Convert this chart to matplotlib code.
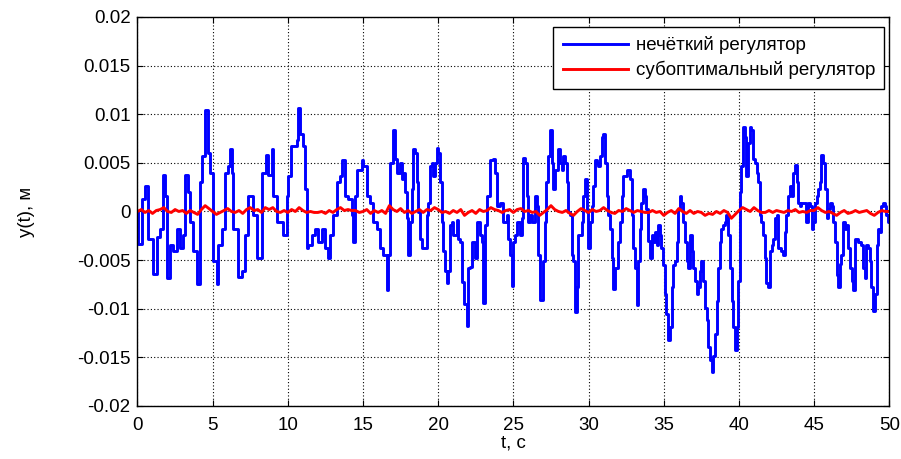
import numpy as np
import matplotlib
matplotlib.use("Agg")
import matplotlib.pyplot as plt

plt.rcParams['font.family'] = ['Liberation Sans', 'DejaVu Sans']
plt.rcParams['axes.unicode_minus'] = False

# ---------------- data ----------------
# fuzzy controller, t in s, y in 1e-3 m
blue_t = [0.0, 0.06, 0.28, 0.5, 0.72, 1.05, 1.27, 1.5, 1.72, 1.83, 1.94, 2.16, 2.38, 2.6, 2.83,
          3.05, 3.16, 3.38, 3.49, 3.71, 3.94, 4.16, 4.27, 4.49, 4.71, 4.82, 5.04, 5.27, 5.38, 5.6,
          5.82, 6.0, 6.15, 6.26, 6.38, 6.71, 6.93, 7.15, 7.37, 7.7, 7.92, 8.26, 8.52, 8.7, 8.97,
          9.03, 9.25, 9.47, 9.7, 9.92, 10.03, 10.2, 10.43, 10.58, 10.69, 10.8, 11.03, 11.14, 11.25,
          11.36, 11.58, 11.8, 12.02, 12.25, 12.47, 12.69, 12.8, 13.02, 13.24, 13.46, 13.62, 13.8,
          14.02, 14.24, 14.35, 14.46, 14.57, 14.9, 15.01, 15.24, 15.46, 15.68, 15.9, 16.12, 16.35,
          16.57, 16.68, 16.79, 16.97, 17.12, 17.23, 17.45, 17.57, 17.68, 17.79, 17.9, 18.01, 18.12,
          18.23, 18.34, 18.45, 18.56, 18.67, 18.78, 18.89, 19.12, 19.23, 19.34, 19.45, 19.56, 19.67,
          19.78, 19.89, 20.0, 20.11, 20.22, 20.33, 20.45, 20.56, 20.67, 20.78, 20.89, 21.0, 21.22,
          21.33, 21.44, 21.55, 21.7, 21.89, 22.0, 22.1, 22.22, 22.44, 22.55, 22.77, 22.88, 22.97,
          23.1, 23.22, 23.44, 23.66, 23.77, 23.88, 24.1, 24.32, 24.55, 24.66, 24.77, 24.88, 24.99,
          25.1, 25.21, 25.43, 25.54, 25.65, 25.76, 25.88, 25.99, 26.1, 26.21, 26.43, 26.54, 26.65,
          26.76, 26.98, 27.09, 27.2, 27.32, 27.43, 27.54, 27.65, 27.76, 27.99, 28.1, 28.21, 28.32,
          28.43, 28.54, 28.65, 28.76, 28.87, 28.98, 29.13, 29.21, 29.32, 29.54, 29.66, 29.77, 29.88,
          29.98, 30.1, 30.2, 30.31, 30.42, 30.53, 30.64, 30.75, 30.86, 30.97, 31.08, 31.2, 31.31,
          31.42, 31.53, 31.64, 31.75, 31.97, 32.08, 32.2, 32.3, 32.53, 32.75, 32.86, 32.97, 33.08,
          33.19, 33.3, 33.41, 33.52, 33.63, 33.74, 33.85, 33.96, 34.08, 34.19, 34.3, 34.41, 34.52,
          34.63, 34.74, 34.85, 34.96, 35.07, 35.18, 35.29, 35.41, 35.52, 35.63, 35.74, 35.85, 35.96,
          36.07, 36.18, 36.29, 36.41, 36.52, 36.63, 36.74, 36.85, 36.96, 37.07, 37.18, 37.29, 37.4,
          37.51, 37.62, 37.73, 37.85, 37.96, 38.07, 38.18, 38.29, 38.4, 38.51, 38.62, 38.73, 38.84,
          38.95, 39.06, 39.17, 39.28, 39.4, 39.51, 39.62, 39.73, 39.84, 39.95, 40.06, 40.17, 40.28,
          40.39, 40.5, 40.61, 40.72, 40.83, 40.95, 41.06, 41.17, 41.28, 41.39, 41.5, 41.61, 41.72,
          41.83, 41.94, 42.05, 42.17, 42.28, 42.39, 42.5, 42.61, 42.72, 42.83, 42.94, 43.05, 43.16,
          43.28, 43.39, 43.5, 43.61, 43.72, 43.83, 43.94, 44.05, 44.16, 44.27, 44.38, 44.49, 44.61,
          44.72, 44.83, 44.94, 45.05, 45.16, 45.27, 45.38, 45.49, 45.6, 45.71, 45.83, 45.94, 46.05,
          46.16, 46.27, 46.38, 46.49, 46.6, 46.71, 46.82, 46.93, 47.04, 47.15, 47.26, 47.38, 47.49,
          47.6, 47.71, 47.82, 47.93, 48.15, 48.26, 48.37, 48.48, 48.59, 48.7, 48.81, 48.93, 49.04,
          49.15, 49.26, 49.37, 49.48, 49.59, 49.7, 49.81, 49.92, 50.0]
blue_y = [0.0, -3.3, 1.3, 2.6, -2.8, -6.4, -2.6, -1.8, 3.8, 1.6, -6.8, -3.4, -4.1, -1.8, -3.8,
          -2.4, 3.8, 2.0, -1.1, -4.1, -7.5, 3.0, 5.7, 10.4, 6.0, 4.0, -5.1, -7.5, -3.4, -1.8,
          4.0, 4.7, 6.4, 4.0, -1.8, -6.7, -6.1, -2.4, 1.6, -0.4, -4.8, 4.0, 5.8, 3.8, 6.4,
          1.6, -1.1, -1.1, -2.4, 1.6, 3.6, 6.7, 6.7, 7.4, 10.6, 8.0, 6.7, 2.3, -3.8,
          -3.4, -2.4, -1.8, -3.1, -1.8, -3.8, -4.8, -2.4, -0.4, 3.0, 3.6, 5.3, 1.6,
          1.3, -0.4, -3.1, 1.6, 4.3, 5.3, 4.7, 1.6, 0.9, -1.1, -1.8, -3.8, -4.5,
          -8.1, -4.5, 5.0, 8.4, 5.4, 4.0, 5.0, 3.3, 4.0, 2.0, -0.7, -4.5, -1.1,
          2.3, 6.4, 6.0, 3.0, -0.1, -2.8, -3.8, -3.8, -0.4, 0.9, 4.7, 5.0, 3.6,
          5.0, 6.5, 6.0, 3.0, -1.1, -4.1, -6.1, -7.4, -6.1, -1.4, -1.1, -2.4, -0.9,
          -2.8, -3.1, -7.2, -9.5, -11.8, -5.8, -5.7, -3.1, -4.8, -1.1, -2.4, -3.1, -9.4,
          -1.4, 1.6, 5.3, 5.4, 4.0, 0.6, 0.9, -1.1, -0.4, -2.8, -4.5, -7.7, -3.1,
          -2.4, -1.1, -2.4, -0.7, 5.5, 5.0, 1.6, -1.1, -0.4, -1.1, 1.6, 0.6, -4.5,
          -9.1, -5.1, -1.1, 3.0, 5.7, 8.4, 5.0, 2.3, 4.3, 6.4, 5.0, 4.3, 5.7,
          5.0, 3.0, -0.1, -0.4, -4.5, -5.1, -10.3, -7.8, -2.4, -1.1, 1.6, 3.3, -0.1,
          -3.8, -1.1, 0.6, 2.6, 5.3, 5.0, 4.7, 5.7, 7.7, 8.0, 5.0, 1.6, -0.4,
          -1.8, -4.8, -8.0, -5.8, -3.1, -1.1, 1.6, 3.6, 4.3, 3.3, -0.4, -3.8, -5.8,
          -9.6, -5.1, -1.8, 0.9, 2.3, 1.6, 0.3, -3.0, -4.8, -2.4, -3.1, -2.1, -3.4,
          -1.4, -2.4, -3.8, -5.5, -8.5, -10.5, -13.2, -11.9, -7.8, -5.5, -5.1, -3.1, 0.3,
          1.6, 0.9, -1.1, -3.1, -5.1, -5.8, -2.4, -4.1, -5.8, -7.1, -8.5, -7.8, -6.1,
          -5.1, -7.1, -9.9, -11.2, -13.9, -15.3, -16.5, -14.9, -12.6, -9.2, -5.8, -3.1, -1.8,
          -1.4, -1.1, -0.4, -2.4, -5.8, -9.2, -11.9, -14.2, -11.9, -7.1, 2.0, 4.7, 8.7,
          7.7, 3.7, 7.0, 8.7, 8.4, 5.4, 5.0, 4.0, 3.0, -0.4, -1.1, -2.4, -4.8,
          -7.4, -7.8, -4.1, -3.4, -2.8, -0.7, -0.4, -3.8, -3.8, -4.1, -4.5, -2.1, -0.4,
          1.6, 2.6, 1.6, 4.0, 4.8, 3.0, 0.9, 0.6, 0.9, 0.9, 0.9, -1.1, 0.9,
          0.6, -1.8, -1.1, 0.9, 1.6, 2.3, 3.0, 5.8, 5.0, 2.3, -0.7, 0.3, 0.9,
          0.6, -1.1, -3.1, -6.5, -7.8, -5.4, -4.5, -1.1, -1.8, -1.4, -3.8, -5.8, -7.1,
          -8.1, -2.8, -2.8, -3.1, -3.4, -5.8, -6.8, -3.4, -3.8, -5.1, -7.8, -10.2, -8.5,
          -3.4, -1.8, -2.1, 0.6, 0.9, 0.6, -0.4, -1.1, -0.4]

# suboptimal controller, one value every 0.25 s, y in 1e-4 m
red_y = [0, 2, -1, 1, -2, 1, 2, 4, 0, -1, 2, 0, 1, -2, 1, -1,
         -3, 2, 6, 3, 0, -3, -1, 1, 3, 0, -1, 1, -2, 2, 4, 1,
         2, -1, 4, 2, 4, 0, -1, 1, -1, 2, 0, 4, 1, -1, 0, -1,
         -1, 0, -2, 1, -1, 2, 4, 1, 2, 1, 1, -1, 0, 2, -2, 1,
         -1, 1, -2, 6, 2, 0, 3, -1, 1, -2, 0, 2, -1, 2, 1, 4,
         2, -1, 0, -2, 1, -1, 2, -4, -1, 1, -2, 2, 0, 1, 4, 2,
         1, -1, 1, 2, -1, 2, 3, 0, 1, -1, 0, -4, -1, 2, 6, 2,
         0, -1, 1, -2, -4, 0, 3, 1, -1, 2, 0, 1, 4, 1, -1, -2,
         1, 0, 3, 1, -1, 1, 0, -1, -1, 1, -1, 0, -4, -1, 1, -2,
         3, 0, -2, 1, -2, 0, -1, -4, -2, -3, 0, -2, 1, -1, -7, -3,
         1, 4, 2, 0, 4, 1, -1, -1, 1, -1, 1, 0, -1, 1, 0, 2,
         -1, 0, -1, 1, 1, 4, 1, -1, 0, -2, -4, -1, 1, -2, -1, 1,
         -1, 0, 1, -2, -4, -1, 1, 0, 0]

y_ticks = [-0.02, -0.015, -0.01, -0.005, 0, 0.005, 0.01, 0.015, 0.02]
y_ticklabels = ['-0.02', '-0.015', '-0.01', '-0.005', '0', '0.005', '0.01', '0.015', '0.02']
x_ticks = [0, 5, 10, 15, 20, 25, 30, 35, 40, 45, 50]

# ---------------- plot ----------------
fs = 13.5
fig = plt.figure(figsize=(9.01, 4.59), dpi=100)
ax = fig.add_axes([0.1526, 0.1155, 0.8344, 0.8475])

red_t = np.linspace(0, 50, len(red_y))
ax.plot(blue_t, np.array(blue_y) * 1e-3, color='#0000ff', lw=2.1, drawstyle='steps-post',
        label='нечёткий регулятор')
ax.plot(red_t, np.array(red_y) * 1e-4, color='#ff0000', lw=2.1, label='субоптимальный регулятор')

ax.set_xlim(0, 50)
ax.set_ylim(-0.02, 0.02)
ax.set_xticks(x_ticks)
ax.set_yticks(y_ticks)
ax.set_yticklabels(y_ticklabels)
ax.grid(True, color='black', linestyle=(0, (1, 2)), linewidth=0.8)
ax.tick_params(direction='in', top=True, right=True, labelsize=fs, length=4, pad=5)
ax.tick_params(axis='x', pad=8)
for s in ax.spines.values():
    s.set_linewidth(1.0)

ax.set_xlabel('t, c', fontsize=fs, labelpad=0)
ax.set_ylabel('y(t), м', fontsize=fs, labelpad=30)

leg = ax.legend(loc='upper right', bbox_to_anchor=(0.9935, 0.974), fontsize=fs,
                fancybox=False, edgecolor='black', framealpha=1, handlelength=3.5,
                handletextpad=0.4, borderaxespad=0, labelspacing=0.35, borderpad=0.5)
leg.get_frame().set_linewidth(1.0)

fig.savefig('out.png', dpi=100)
